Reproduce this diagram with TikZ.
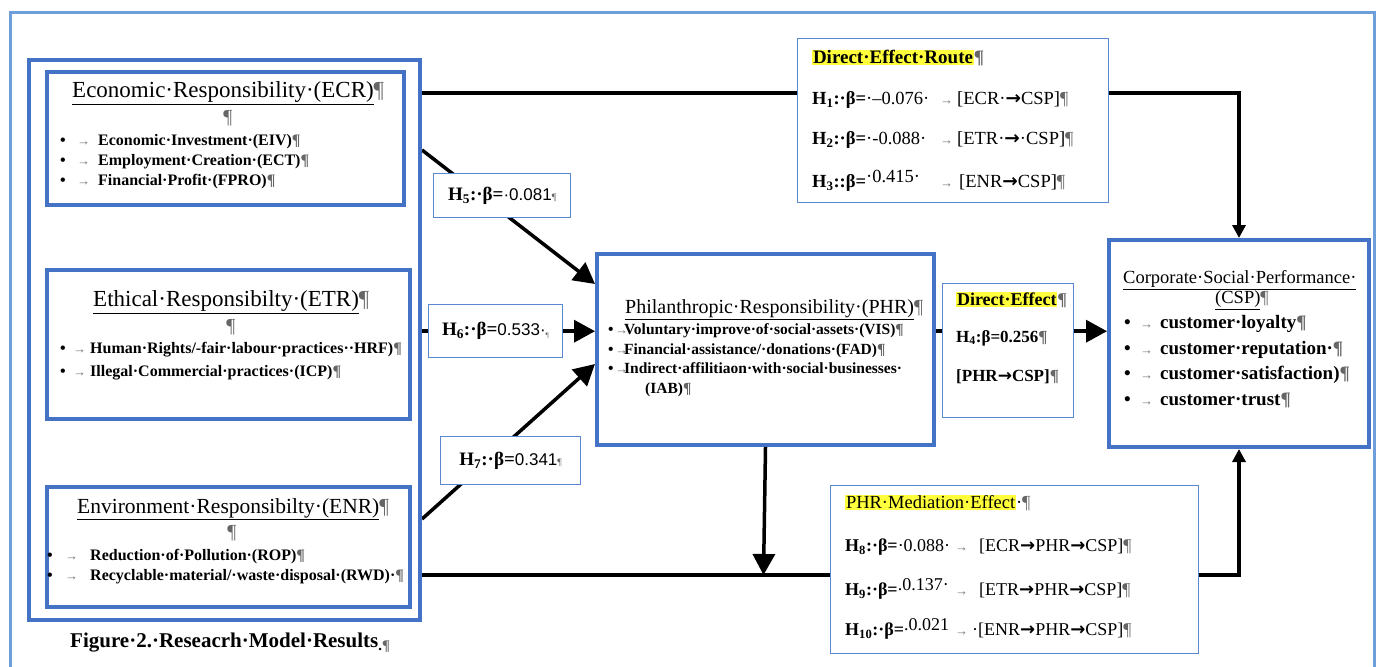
\documentclass[tikz,border=0pt]{standalone}
\usepackage{fontspec}
\setmainfont{Liberation Serif}
\newfontfamily\numfont{Liberation Sans}
\newfontfamily\arrfont{DejaVu Sans}
\usepackage{tikz}
\usetikzlibrary{arrows.meta,positioning}
\definecolor{frameblue}{HTML}{6E9FDA}
\definecolor{boxblue}{HTML}{4472C4}
\definecolor{thinblue}{HTML}{5A87D2}
\definecolor{hl}{HTML}{FFFF3C}
\newcommand\pil{{\color{black!60}¶}}
\newcommand\tabarr{\textcolor{black!55}{\mdseries\fontsize{13}{13}\selectfont →}}
\newcommand\barr{{\arrfont\bfseries →}}
\newcommand\fsz[1]{\fontsize{#1}{#1}\selectfont}
\newcommand\hlt[1]{{\setlength\fboxsep{0.8pt}\colorbox{hl}{#1}}}
\newcommand\itm[3]{\makebox[#1][l]{•}\makebox[#2][l]{\tabarr}#3}
\newcommand\hb[2]{\textbf{H\textsubscript{#1}#2β=}}
\newcommand\hval[3]{{\bfseries\fsz{19}H\textsubscript{#1}:·β=}{\numfont\fsz{17}#2}#3}
\pgfdeclarelayer{bg}
\pgfsetlayers{bg,main}

\begin{document}
\begin{tikzpicture}[x=1pt,y=-1pt,
  grp/.style={draw=boxblue,line width=4,fill=white,anchor=north west,inner sep=0},
  resp/.style={draw=boxblue,line width=4,fill=white,anchor=north west,inner sep=0},
  hbox/.style={draw=thinblue,line width=1.4,fill=white,anchor=north west,inner sep=0},
  txt/.style={inner sep=0,anchor=west,align=left},
  ttl/.style={inner sep=0},
  link/.style={line width=3.5},
  arr/.style={line width=3.5,-{Triangle[length=21pt,width=22pt]}},
  sarr/.style={line width=3.5,-{Triangle[length=13pt,width=13pt]}}]
\useasboundingbox (0,0) rectangle (1380,666);
\draw[frameblue,line width=3] (10,680) -- (10,13) -- (1374,13) -- (1374,680);

% left group
\node[grp,minimum width=391,minimum height=560] (grp) at (27,58) {};
\node[resp,minimum width=357,minimum height=133] (ecr) at (45,70) {};
\node[resp,minimum width=363,minimum height=149] (etr) at (45,268) {};
\node[resp,minimum width=363,minimum height=120] (enr) at (45,485) {};

\node[ttl,anchor=west,font=\fsz{23}] (ecrT) at (72,93) {\underline{Economic·Responsibility·(ECR)}\pil};
\node[ttl,font=\fsz{20}] (ecrP) at (228,118) {\pil};
\node[txt,font=\bfseries\fontsize{16}{20}\selectfont] (ecrL) at (60,162) {\itm{17pt}{21pt}{Economic·Investment·(EIV)\pil}\\
  \itm{17pt}{21pt}{Employment·Creation·(ECT)\pil}\\
  \itm{17pt}{21pt}{Financial·Profit·(FPRO)\pil}};

\node[ttl,anchor=west,font=\fsz{23}] (etrT) at (93,302) {\underline{Ethical·Responsibilty·(ETR)}\pil};
\node[ttl,font=\fsz{20}] (etrP) at (231,327) {\pil};
\node[txt,font=\bfseries\fontsize{16}{23}\selectfont] (etrL) at (60,361.5) {\itm{13pt}{17pt}{Human·Rights/-fair·labour·practices··HRF)\pil}\\
  \itm{13pt}{17pt}{Illegal·Commercial·practices·(ICP)\pil}};

\node[ttl,anchor=west,font=\fsz{21.5}] (enrT) at (77,509) {\underline{Environment·Responsibilty·(ENR)}\pil};
\node[ttl,font=\fsz{20}] (enrP) at (232,533) {\pil};
\node[txt,font=\bfseries\fontsize{16}{20}\selectfont] (enrL) at (47,567) {\itm{18pt}{25pt}{Reduction·of·Pollution·(ROP)\pil}\\
  \itm{18pt}{25pt}{Recyclable·material/·waste·disposal·(RWD)·\pil}};

\node[ttl,anchor=west,font=\bfseries\fsz{21}] (cap) at (70,643) {Figure·2.·Reseacrh·Model·Results\textsubscript{.\pil}};

% beta boxes
\node[hbox,minimum width=137,minimum height=44] (h5) at (433,173) {\hval{5}{·0.081}{\pil}};
\node[hbox,minimum width=134,minimum height=53] (h6) at (428,304) {\hval{6}{0.533·}{\textsubscript{\pil}}};
\node[hbox,minimum width=140,minimum height=48] (h7) at (440,436) {\hval{7}{0.341}{\pil}};

% mediator
\node[resp,minimum width=337,minimum height=191] (phr) at (595,252) {};
\node[ttl,anchor=west,font=\fsz{20}] (phrT) at (625,310) {\underline{Philanthropic·Responsibility·(PHR)}\pil};
\node[txt,font=\bfseries\fontsize{15.5}{19.5}\selectfont] (phrL) at (608,360) {\itm{7pt}{9pt}{Voluntary·improve·of·social·assets·(VIS)\pil}\\
  \itm{7pt}{9pt}{Financial·assistance/·donations·(FAD)\pil}\\
  \itm{7pt}{9pt}{Indirect·affilitiaon·with·social·businesses·}\\
  \hspace*{37pt}(IAB)\pil};

\node[hbox,minimum width=131,minimum height=134] (de) at (942,283) {};
\node[txt,font=\bfseries\fsz{18}] (deT) at (956,300) {\hlt{Direct·Effect}\pil};
\node[txt,font=\bfseries\fsz{17}] (de1) at (956,338) {H\textsubscript{4}:β=0.256\pil};
\node[txt,font=\bfseries\fsz{17}] (de2) at (956,377) {[PHR\barr CSP]\pil};

% outcome
\node[resp,minimum width=260,minimum height=207] (csp) at (1107,238) {};
\node[ttl,anchor=west,font=\fsz{18.5}] (cspT) at (1123,280) {\underline{Corporate·Social·Performance·}};
\node[ttl,anchor=west,font=\fsz{18.5}] (cspT2) at (1215,300) {\underline{(CSP)}\pil};
\node[txt,font=\bfseries\fontsize{19}{25.7}\selectfont] (cspL) at (1124,361.5) {\itm{16pt}{20pt}{customer·loyalty\pil}\\
  \itm{16pt}{20pt}{customer·reputation·\pil}\\
  \itm{16pt}{20pt}{customer·satisfaction)\pil}\\
  \itm{16pt}{20pt}{customer·trust\pil}};

% direct routes
\node[hbox,minimum width=311,minimum height=164] (der) at (797,38) {};
\node[txt,font=\bfseries\fsz{19}] (derT) at (812,58) {\hlt{Direct·Effect·Route}\pil};
\node[txt,font=\fsz{18.5}] (der1) at (812,100) {\makebox[128pt][l]{\hb{1}{:·}·--0.076·}\makebox[17pt][l]{\tabarr}[ECR·\barr CSP]\pil};
\node[txt,font=\fsz{18.5}] (der2) at (812,140) {\makebox[128pt][l]{\hb{2}{:·}·-0.088·}\makebox[17pt][l]{\tabarr}[ETR·\barr·CSP]\pil};
\node[txt,font=\fsz{18.5}] (der3) at (812,181) {\makebox[128pt][l]{\hb{3}{::}\raisebox{5pt}{·0.415·}}\makebox[19pt][l]{\tabarr}[ENR\barr CSP]\pil};

% mediation routes
\node[hbox,minimum width=368,minimum height=168] (med) at (830,485) {};
\node[txt,font=\fsz{18.5}] (medT) at (845,503) {\hlt{PHR·Mediation·Effect}·\pil};
\node[txt,font=\fsz{18}] (med1) at (845,547) {\makebox[110pt][l]{\hb{8}{:·}·0.088·}\makebox[24pt][l]{\tabarr}[ECR\barr PHR\barr CSP]\pil};
\node[txt,font=\fsz{18}] (med2) at (845,589) {\makebox[110pt][l]{\hb{9}{:·}\raisebox{5pt}{.0.137·}}\makebox[24pt][l]{\tabarr}[ETR\barr PHR\barr CSP]\pil};
\node[txt,font=\fsz{18}] (med3) at (845,629) {\makebox[110pt][l]{\hb{10}{:·}\raisebox{5pt}{.0.021}}\makebox[17pt][l]{\tabarr}·[ENR\barr PHR\barr CSP]\pil};

\coordinate (jn) at (763.5,575);

\begin{pgfonlayer}{bg}
\draw[arr] ([yshift=-92pt]grp.north east) -- ([yshift=65.5pt]phr.west);
\draw[arr] (grp.east |- h6) -- (phr.west |- h6);
\draw[arr] ([yshift=103pt]grp.south east) -- ([yshift=-14.5pt]phr.west);
\draw[arr] (phr.east |- h6) -- (csp.west |- h6);
\end{pgfonlayer}

\draw[link] (grp.east |- ecrT) -- (der.west |- ecrT);
\draw[sarr] (der.east |- ecrT) -| (csp.north);
\draw[link] (grp.east |- jn) -- (med.west |- jn);
\draw[arr] (phr.south) -- (jn);
\draw[sarr] (med.east |- jn) -| (csp.south);
\end{tikzpicture}
\end{document}
